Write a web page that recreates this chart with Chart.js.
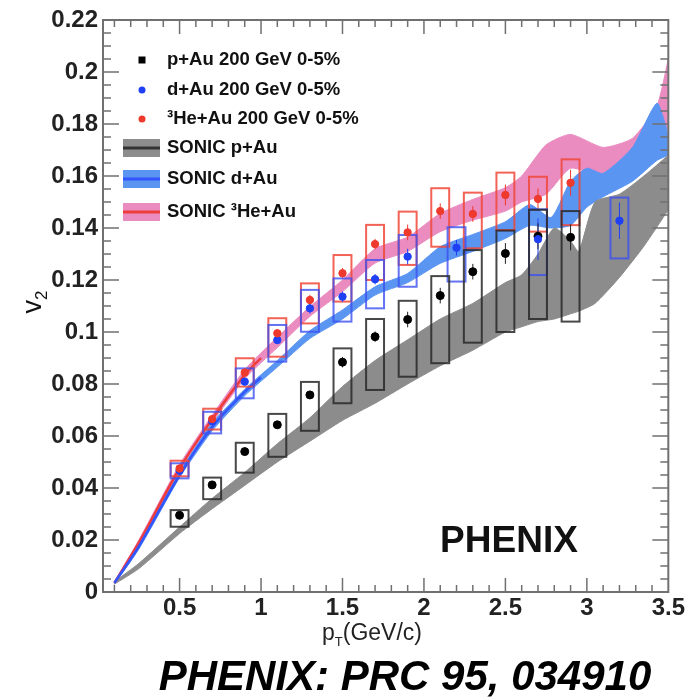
<!DOCTYPE html>
<html>
<head>
<meta charset="utf-8">
<script src="https://cdn.jsdelivr.net/npm/chart.js@4.4.0/dist/chart.umd.min.js"></script>
<style>
  html, body { margin: 0; padding: 0; background: #fff; }
  canvas { display: block; }
</style>
</head>
<body>
<canvas id="v2Chart" width="687" height="697"></canvas>
<script>
/* ══════════════════════════════
   DATA
══════════════════════════════ */
// PHENIX measured v2, 0-5% central
const pAuPt  = [0.5, 0.7, 0.9, 1.1, 1.3, 1.5, 1.7, 1.9, 2.1, 2.3, 2.5, 2.7, 2.9];
const pAuV2  = [0.0295, 0.0412, 0.054, 0.0643, 0.0758, 0.0884, 0.0982, 0.1048, 0.114, 0.1232, 0.1302, 0.1368, 0.1364];
const pAuStat = [0.001, 0.001, 0.001, 0.001, 0.0015, 0.002, 0.002, 0.003, 0.003, 0.003, 0.004, 0.005, 0.005];
const pAuSysLo = [0.0251, 0.0357, 0.0459, 0.052, 0.062, 0.0726, 0.0777, 0.0828, 0.088, 0.0959, 0.100, 0.105, 0.104];
const pAuSysHi = [0.0315, 0.044, 0.0574, 0.0685, 0.0808, 0.0937, 0.105, 0.112, 0.1215, 0.1315, 0.139, 0.147, 0.1465];

const dAuPt  = [0.5, 0.7, 0.9, 1.1, 1.3, 1.5, 1.7, 1.9, 2.2, 2.7, 3.2];
const dAuV2  = [0.0467, 0.0657, 0.0809, 0.0969, 0.1091, 0.1136, 0.1203, 0.129, 0.1324, 0.1357, 0.1428];
const dAuStat = [0.001, 0.001, 0.001, 0.0015, 0.002, 0.002, 0.002, 0.003, 0.003, 0.008, 0.007];
const dAuSysLo = [0.0437, 0.061, 0.0745, 0.0886, 0.1001, 0.104, 0.1091, 0.1174, 0.1194, 0.1219, 0.1283];
const dAuSysHi = [0.0495, 0.0693, 0.086, 0.1027, 0.1162, 0.1206, 0.1277, 0.1373, 0.1403, 0.1472, 0.1517];

const heAuPt  = [0.5, 0.7, 0.9, 1.1, 1.3, 1.5, 1.7, 1.9, 2.1, 2.3, 2.5, 2.7, 2.9];
const heAuV2  = [0.0475, 0.0665, 0.0844, 0.0995, 0.1123, 0.1226, 0.1338, 0.1383, 0.1465, 0.1454, 0.1527, 0.1512, 0.1574];
const heAuStat = [0.001, 0.001, 0.0015, 0.0015, 0.002, 0.002, 0.002, 0.003, 0.003, 0.003, 0.004, 0.004, 0.005];
const heAuSysLo = [0.0445, 0.0625, 0.079, 0.0905, 0.1033, 0.1117, 0.12, 0.1258, 0.1328, 0.1322, 0.1392, 0.1386, 0.1411];
const heAuSysHi = [0.0505, 0.0705, 0.0899, 0.1053, 0.1187, 0.1296, 0.1412, 0.1463, 0.1553, 0.1536, 0.1613, 0.1597, 0.1664];

// SONIC calculations (bands)
const sonicPAuPt  = [0.1, 0.25, 0.5, 0.7, 0.9, 1.1, 1.3, 1.5, 1.7, 1.9, 2.1, 2.3, 2.5, 2.6, 2.7, 2.8, 2.9, 2.95, 3.05, 3.2, 3.35, 3.5];
const sonicPAuLo  = [0.003, 0.009, 0.0225, 0.032, 0.041, 0.050, 0.058, 0.066, 0.0726, 0.080, 0.087, 0.093, 0.100, 0.102, 0.104, 0.105, 0.107, 0.108, 0.111, 0.121, 0.133, 0.147];
const sonicPAuHi  = [0.004, 0.011, 0.025, 0.036, 0.046, 0.057, 0.067, 0.079, 0.089, 0.097, 0.105, 0.111, 0.119, 0.122, 0.130, 0.140, 0.135, 0.131, 0.150, 0.153, 0.160, 0.168];

const sonicDAuPt  = [0.1, 0.25, 0.5, 0.7, 0.9, 1.1, 1.3, 1.5, 1.7, 1.9, 2.1, 2.3, 2.5, 2.65, 2.78, 2.9, 3.0, 3.1, 3.28, 3.43, 3.5];
const sonicDAuLo  = [0.003, 0.0165, 0.044, 0.062, 0.0755, 0.0865, 0.0975, 0.105, 0.1142, 0.119, 0.1264, 0.131, 0.136, 0.141, 0.140, 0.141, 0.148, 0.152, 0.158, 0.166, 0.168];
const sonicDAuHi  = [0.004, 0.0185, 0.046, 0.065, 0.078, 0.089, 0.1005, 0.1085, 0.1174, 0.1225, 0.1328, 0.1375, 0.1424, 0.149, 0.144, 0.158, 0.163, 0.161, 0.171, 0.188, 0.176];

const sonicHeAuPt = [0.1, 0.25, 0.5, 0.7, 0.9, 1.1, 1.3, 1.5, 1.7, 1.9, 2.1, 2.3, 2.5, 2.6, 2.75, 2.9, 3.1, 3.28, 3.43, 3.5];
const sonicHeAuLo = [0.003, 0.018, 0.046, 0.065, 0.082, 0.094, 0.106, 0.1155, 0.1265, 0.131, 0.1386, 0.143, 0.1465, 0.150, 0.153, 0.163, 0.160, 0.168, 0.178, 0.178];
const sonicHeAuHi = [0.004, 0.020, 0.049, 0.068, 0.0855, 0.098, 0.1097, 0.120, 0.132, 0.1365, 0.1456, 0.151, 0.1555, 0.160, 0.172, 0.176, 0.171, 0.1745, 0.187, 0.205];

// SONIC central curves, visible where the bands are thin (low pT)
const sonicLinePt   = [0.1, 0.25, 0.5, 0.7, 0.9, 1.0];
const sonicHeAuLine = [0.0035, 0.019, 0.0475, 0.0665, 0.0835, 0.090];
const sonicDAuLine  = [0.0035, 0.0175, 0.045, 0.0635, 0.077, 0.0825];

// axes
const xTickValues = [0.5, 1, 1.5, 2, 2.5, 3, 3.5];
const xTickLabels = ['0.5', '1', '1.5', '2', '2.5', '3', '3.5'];
const yTickValues = [0, 0.02, 0.04, 0.06, 0.08, 0.1, 0.12, 0.14, 0.16, 0.18, 0.2, 0.22];
const yTickLabels = ['0', '0.02', '0.04', '0.06', '0.08', '0.1', '0.12', '0.14', '0.16', '0.18', '0.2', '0.22'];

const legendLabels = [
  'p+Au 200 GeV 0-5%',
  'd+Au 200 GeV 0-5%',
  '³He+Au 200 GeV 0-5%',
  'SONIC p+Au',
  'SONIC d+Au',
  'SONIC ³He+Au'
];

/* ══════════════════════════════
   STYLE
══════════════════════════════ */
const FONT = '"Liberation Sans", Arial, Helvetica, sans-serif';
const C = {
  pAu: '#000000',
  dAu: '#2040f5',
  heAu: '#ee3a2c',
  pAuBox: 'rgba(40,40,40,0.85)',
  dAuBox: 'rgba(60,80,240,0.8)',
  heAuBox: 'rgba(240,70,55,0.85)',
  bandP: '#8c8c8c',
  bandD: '#5b95f2',
  bandHe: '#ea8cc0',
  lineP: '#333333',
  lineD: '#3355ff',
  lineHe: '#ee3c3c',
  axis: '#707070'
};
const boxHalfWidth = 0.055;

const toXY = (xs, ys) => xs.map((x, i) => ({ x: x, y: ys[i] }));

function bandPair(xs, lo, hi, color, order) {
  return [
    { type: 'line', data: toXY(xs, lo), borderColor: color, borderWidth: 1,
      pointRadius: 0, fill: false, tension: 0.2, order: order },
    { type: 'line', data: toXY(xs, hi), borderColor: color, borderWidth: 1,
      pointRadius: 0, backgroundColor: color, fill: '-1', tension: 0.2, order: order - 1 }
  ];
}

/* ══════════════════════════════
   DECORATION PLUGIN
══════════════════════════════ */
const LAST_CURVE_INDEX = 7;

function drawSeriesBoxes(chart, xs, v2, stat, lo, hi, boxColor, statColor) {
  const ctx = chart.ctx, xs_ = chart.scales.x, ys = chart.scales.y;
  ctx.save();
  ctx.lineWidth = 2;
  ctx.strokeStyle = boxColor;
  xs.forEach((x, i) => {
    const l = xs_.getPixelForValue(x - boxHalfWidth);
    const r = xs_.getPixelForValue(x + boxHalfWidth);
    const t = ys.getPixelForValue(hi[i]);
    const b = ys.getPixelForValue(lo[i]);
    ctx.strokeRect(l, t, r - l, b - t);
  });
  ctx.lineWidth = 1;
  ctx.strokeStyle = statColor;
  xs.forEach((x, i) => {
    const px = xs_.getPixelForValue(x);
    ctx.beginPath();
    ctx.moveTo(px, ys.getPixelForValue(v2[i] - stat[i]));
    ctx.lineTo(px, ys.getPixelForValue(v2[i] + stat[i]));
    ctx.stroke();
  });
  ctx.restore();
}

const decorPlugin = {
  id: 'phenixDecor',
  afterDatasetDraw(chart, args) {
    if (args.index !== LAST_CURVE_INDEX) return;
    drawSeriesBoxes(chart, heAuPt, heAuV2, heAuStat, heAuSysLo, heAuSysHi, C.heAuBox, C.heAu);
    drawSeriesBoxes(chart, dAuPt, dAuV2, dAuStat, dAuSysLo, dAuSysHi, C.dAuBox, C.dAu);
    drawSeriesBoxes(chart, pAuPt, pAuV2, pAuStat, pAuSysLo, pAuSysHi, C.pAuBox, '#222');
  },
  afterDraw(chart) {
    const ctx = chart.ctx;
    const a = chart.chartArea;
    const xs = chart.scales.x, ys = chart.scales.y;

    ctx.save();
    // frame
    ctx.strokeStyle = C.axis;
    ctx.lineWidth = 2;
    ctx.strokeRect(a.left, a.top, a.right - a.left, a.bottom - a.top);

    // inward ticks, all four sides
    ctx.lineWidth = 1.5;
    ctx.beginPath();
    for (let k = 1; k <= 34; k++) {
      const v = k / 10;
      const major = k % 5 === 0;
      const px = xs.getPixelForValue(v);
      const len = major ? 14 : 7;
      ctx.moveTo(px, a.bottom); ctx.lineTo(px, a.bottom - len);
      ctx.moveTo(px, a.top); ctx.lineTo(px, a.top + len);
    }
    for (let k = 1; k <= 43; k++) {
      const v = k * 0.005;
      const major = k % 4 === 0;
      const py = ys.getPixelForValue(v);
      const len = major ? 16 : 8;
      ctx.moveTo(a.left, py); ctx.lineTo(a.left + len, py);
      ctx.moveTo(a.right, py); ctx.lineTo(a.right - len, py);
    }
    ctx.stroke();

    // legend
    const rowY = [60, 90, 119, 148, 179, 212];
    const markX = 142, textX = 167;
    const markColors = [C.pAu, C.dAu, C.heAu];
    const bandColors = [C.bandP, C.bandD, C.bandHe];
    const lineColors = [C.lineP, C.lineD, C.lineHe];
    ctx.font = 'bold 18.5px ' + FONT;
    ctx.textBaseline = 'middle';
    ctx.textAlign = 'left';
    legendLabels.forEach((label, i) => {
      const y = rowY[i];
      if (i < 3) {
        ctx.fillStyle = markColors[i];
        if (i === 0) ctx.fillRect(markX - 3.5, y - 3.5, 7, 7);
        else { ctx.beginPath(); ctx.arc(markX, y, 3.5, 0, Math.PI * 2); ctx.fill(); }
      } else {
        const j = i - 3;
        ctx.fillStyle = bandColors[j];
        ctx.fillRect(123, y - 9, 37, 18);
        ctx.fillStyle = lineColors[j];
        ctx.fillRect(123, y - 1.5, 37, 3);
      }
      ctx.fillStyle = '#111';
      ctx.fillText(label, textX, y);
    });

    // experiment tag
    ctx.font = 'bold 37px ' + FONT;
    ctx.textBaseline = 'alphabetic';
    ctx.textAlign = 'center';
    ctx.fillStyle = '#111';
    ctx.fillText('PHENIX', 509, 552);

    // y title: v2
    ctx.save();
    ctx.translate(41, 302);
    ctx.rotate(-Math.PI / 2);
    ctx.textAlign = 'left';
    ctx.font = '27px ' + FONT;
    const wv = ctx.measureText('v').width;
    ctx.font = '17px ' + FONT;
    const w2 = ctx.measureText('2').width;
    const x0 = -(wv + w2) / 2;
    ctx.font = '27px ' + FONT;
    ctx.fillText('v', x0, 0);
    ctx.font = '17px ' + FONT;
    ctx.fillText('2', x0 + wv, 6);
    ctx.restore();

    // x title: pT(GeV/c)
    ctx.textAlign = 'left';
    ctx.fillStyle = '#222';
    ctx.font = '23px ' + FONT;
    const wp = ctx.measureText('p').width;
    const wr = ctx.measureText('(GeV/c)').width;
    ctx.font = '13px ' + FONT;
    const wt = ctx.measureText('T').width;
    let tx = 372 - (wp + wt + wr) / 2;
    ctx.font = '23px ' + FONT;
    ctx.fillText('p', tx, 640);
    ctx.font = '13px ' + FONT;
    ctx.fillText('T', tx + wp, 646);
    ctx.font = '23px ' + FONT;
    ctx.fillText('(GeV/c)', tx + wp + wt, 640);

    // reference line
    ctx.textAlign = 'center';
    ctx.font = 'italic bold 42px ' + FONT;
    ctx.fillStyle = '#000';
    ctx.fillText('PHENIX: PRC 95, 034910', 405, 690);
    ctx.restore();
  }
};

/* ══════════════════════════════
   CHART
══════════════════════════════ */
const ctx = document.getElementById('v2Chart').getContext('2d');

new Chart(ctx, {
  type: 'scatter',
  data: {
    datasets: [
      ...bandPair(sonicHeAuPt, sonicHeAuLo, sonicHeAuHi, C.bandHe, 30),   // 0,1
      ...bandPair(sonicDAuPt, sonicDAuLo, sonicDAuHi, C.bandD, 28),       // 2,3
      ...bandPair(sonicPAuPt, sonicPAuLo, sonicPAuHi, C.bandP, 26),       // 4,5
      { type: 'line', data: toXY(sonicLinePt, sonicHeAuLine), borderColor: C.lineHe,
        borderWidth: 2.5, pointRadius: 0, fill: false, tension: 0.3, order: 24 },   // 6
      { type: 'line', data: toXY(sonicLinePt, sonicDAuLine), borderColor: C.lineD,
        borderWidth: 2.5, pointRadius: 0, fill: false, tension: 0.3, order: 23 },   // 7
      { label: 'p+Au', data: toXY(pAuPt, pAuV2), backgroundColor: C.pAu, borderColor: C.pAu,
        pointRadius: 4, pointStyle: 'circle', order: 3 },
      { label: 'd+Au', data: toXY(dAuPt, dAuV2), backgroundColor: C.dAu, borderColor: C.dAu,
        pointRadius: 3.7, pointStyle: 'circle', order: 2 },
      { label: '3He+Au', data: toXY(heAuPt, heAuV2), backgroundColor: C.heAu, borderColor: C.heAu,
        pointRadius: 3.7, pointStyle: 'circle', order: 1 }
    ]
  },
  options: {
    responsive: false,
    animation: false,
    layout: { padding: { top: 20, right: 17, bottom: 65, left: 0 } },
    plugins: {
      legend: { display: false },
      tooltip: { enabled: false }
    },
    scales: {
      x: {
        type: 'linear',
        min: 0.03,
        max: 3.5,
        grid: { display: false, drawTicks: false },
        border: { display: false },
        afterBuildTicks: s => { s.ticks = xTickValues.map(v => ({ value: v })); },
        afterFit: s => { s.height = 40; },
        ticks: {
          autoSkip: false,
          maxRotation: 0,
          padding: 2,
          color: '#222',
          font: { family: FONT, size: 24, weight: 'bold' },
          callback: (v, i) => xTickLabels[i]
        }
      },
      y: {
        type: 'linear',
        min: 0,
        max: 0.22,
        grid: { display: false, drawTicks: false },
        border: { display: false },
        afterBuildTicks: s => { s.ticks = yTickValues.map(v => ({ value: v })); },
        afterFit: s => { s.width = 103; },
        ticks: {
          autoSkip: false,
          padding: 5,
          color: '#222',
          font: { family: FONT, size: 24, weight: 'bold' },
          callback: (v, i) => yTickLabels[i]
        }
      }
    }
  },
  plugins: [decorPlugin]
});
</script>
</body>
</html>
